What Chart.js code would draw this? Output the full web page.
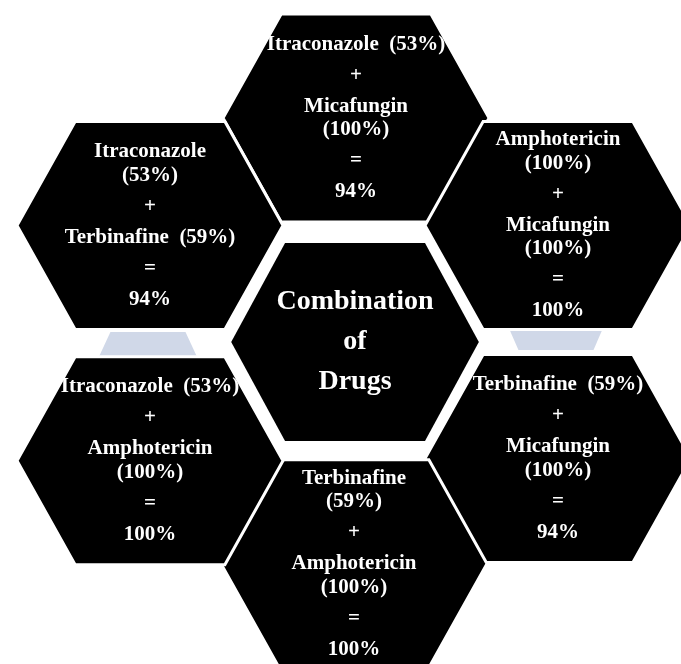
<!DOCTYPE html>
<html>
<head>
<meta charset="utf-8">
<script src="https://cdn.jsdelivr.net/npm/chart.js@4/dist/chart.umd.min.js"></script>
<style>
  html, body { margin: 0; padding: 0; background: #ffffff; }
  #wrap { width: 681px; height: 664px; position: relative; }
</style>
</head>
<body>
<div id="wrap"><canvas id="c"></canvas></div>
<script>
// ---- data ----
const drugA    = ["Itraconazole", "Amphotericin", "Terbinafine", "Terbinafine", "Itraconazole", "Itraconazole"];
const pctA     = [53, 100, 59, 59, 53, 53];
const drugB    = ["Micafungin", "Micafungin", "Micafungin", "Amphotericin", "Amphotericin", "Terbinafine"];
const pctB     = [100, 100, 100, 100, 100, 59];
const combined = [94, 100, 94, 100, 100, 94];
// line breaking of each term as in the reference
const wrapA    = [false, true, false, true, false, true];
const wrapB    = [true, true, true, true, true, false];
// hex-cluster grid position of each outer cell (column, row)
const hexCol   = [0.01, 1, 1, 0, -1, -1];
const hexRow   = [-1, -0.52, 0.52, 0.99, 0.53, -0.52];
// centre cell
const centreTitle = ["Combination", "of", "Drugs"];
const centreCol = [0.005];
const centreRow = [0];
// connector tabs between stacked side cells
const connCol  = [-1.01, 0.99];
const connRow  = [0.013, -0.016];

// ---- drawing constants ----
const HEX_W = 0.652, HEX_TOP = 0.367, HEX_H = 0.464;      // outer cell half-sizes in axis units
const CEN_W = 0.607, CEN_TOP = 0.343, CEN_H = 0.442;      // centre cell
const CONN = [ {top: 0.184, bot: 0.243, h: 0.116}, {top: 0.233, bot: 0.184, h: 0.103} ];
const TAB_COLOR = '#d0d8e8';

function hexPath(ctx, cx, cy, w, t, h) {
  ctx.beginPath();
  ctx.moveTo(cx - w, cy);
  ctx.lineTo(cx - t, cy - h);
  ctx.lineTo(cx + t, cy - h);
  ctx.lineTo(cx + w, cy);
  ctx.lineTo(cx + t, cy + h);
  ctx.lineTo(cx - t, cy + h);
  ctx.closePath();
}

const hexPlugin = {
  id: 'hexCluster',
  afterDatasetsDraw(chart) {
    const ctx = chart.ctx;
    const xs = chart.scales.x, ys = chart.scales.y;
    const ux = xs.getPixelForValue(1) - xs.getPixelForValue(0);
    const uy = Math.abs(ys.getPixelForValue(1) - ys.getPixelForValue(0));
    const outer = chart.getDatasetMeta(0).data;
    const centre = chart.getDatasetMeta(1).data;
    const tabs = chart.getDatasetMeta(2).data;
    ctx.save();
    // connector tabs
    tabs.forEach((p, i) => {
      const s = CONN[i];
      ctx.beginPath();
      ctx.moveTo(p.x - s.top * ux, p.y - s.h * uy / 2);
      ctx.lineTo(p.x + s.top * ux, p.y - s.h * uy / 2);
      ctx.lineTo(p.x + s.bot * ux, p.y + s.h * uy / 2);
      ctx.lineTo(p.x - s.bot * ux, p.y + s.h * uy / 2);
      ctx.closePath();
      ctx.fillStyle = TAB_COLOR;
      ctx.fill();
    });
    // outer cells
    outer.forEach(p => {
      hexPath(ctx, p.x, p.y, HEX_W * ux, HEX_TOP * ux, HEX_H * uy);
      ctx.fillStyle = '#000000';
      ctx.fill();
      ctx.lineWidth = 3;
      ctx.strokeStyle = '#ffffff';
      ctx.stroke();
    });
    // centre cell with wide white rim
    centre.forEach(p => {
      hexPath(ctx, p.x, p.y, CEN_W * ux, CEN_TOP * ux, CEN_H * uy);
      ctx.lineWidth = 16;
      ctx.lineJoin = 'miter';
      ctx.strokeStyle = '#ffffff';
      ctx.stroke();
      ctx.fillStyle = '#000000';
      ctx.fill();
    });
    // texts
    ctx.fillStyle = '#ffffff';
    ctx.textAlign = 'center';
    ctx.textBaseline = 'middle';
    ctx.font = "bold 21px 'Liberation Serif', 'Times New Roman', serif";
    const WRAP_GAP = 23.5, PARA_GAP = 31;
    outer.forEach((p, i) => {
      const paras = [];
      paras.push(wrapA[i] ? [drugA[i], '(' + pctA[i] + '%)'] : [drugA[i] + '  (' + pctA[i] + '%)']);
      paras.push(['+']);
      paras.push(wrapB[i] ? [drugB[i], '(' + pctB[i] + '%)'] : [drugB[i] + '  (' + pctB[i] + '%)']);
      paras.push(['=']);
      paras.push([combined[i] + '%']);
      const lines = [];
      let y = 0;
      paras.forEach((para, k) => {
        if (k > 0) y += PARA_GAP;
        para.forEach((ln, j) => {
          if (j > 0) y += WRAP_GAP;
          lines.push({ t: ln, y: y });
        });
      });
      const off = p.y - y / 2;
      lines.forEach(l => ctx.fillText(l.t, p.x, off + l.y));
    });
    ctx.font = "bold 28px 'Liberation Serif', 'Times New Roman', serif";
    centre.forEach(p => {
      const gap = 40;
      const n = centreTitle.length;
      centreTitle.forEach((t, k) => ctx.fillText(t, p.x, p.y + (k - (n - 1) / 2) * gap));
    });
    ctx.restore();
  }
};

new Chart(document.getElementById('c'), {
  type: 'scatter',
  data: {
    datasets: [
      { label: 'cells', data: hexCol.map((c, i) => ({ x: c, y: hexRow[i] })), pointRadius: 0 },
      { label: 'centre', data: centreCol.map((c, i) => ({ x: c, y: centreRow[i] })), pointRadius: 0 },
      { label: 'tabs', data: connCol.map((c, i) => ({ x: c, y: connRow[i] })), pointRadius: 0 }
    ]
  },
  options: {
    responsive: true,
    maintainAspectRatio: false,
    animation: false,
    events: [],
    layout: { padding: 0 },
    plugins: { legend: { display: false }, tooltip: { enabled: false } },
    scales: {
      x: { type: 'linear', display: false, min: -354 / 204, max: (681 - 354) / 204 },
      y: { type: 'linear', display: false, reverse: true, min: -342 / 224, max: (664 - 342) / 224 }
    }
  },
  plugins: [hexPlugin]
});
</script>
</body>
</html>
